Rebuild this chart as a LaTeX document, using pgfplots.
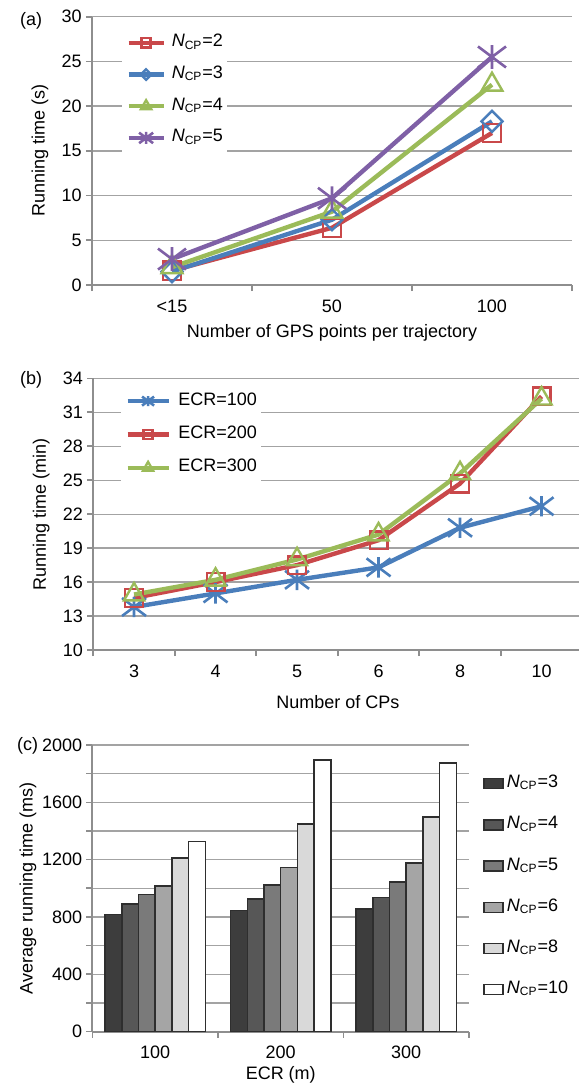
\documentclass[border=0pt]{standalone}
\usepackage{fontspec}
\setmainfont{Liberation Sans}
\usepackage{pgfplots}
\pgfplotsset{compat=1.18}
\usetikzlibrary{plotmarks}
\definecolor{cred}{HTML}{C9484A}
\definecolor{cblue}{HTML}{4A7EBB}
\definecolor{cgreen}{HTML}{9BBB59}
\definecolor{cpurple}{HTML}{7F60A6}
\definecolor{gridgray}{HTML}{A3A3A3}
\definecolor{axisgray}{HTML}{8E8E8E}
\definecolor{b3}{HTML}{3D3D3D}
\definecolor{b4}{HTML}{575757}
\definecolor{b5}{HTML}{7A7A7A}
\definecolor{b6}{HTML}{A5A5A5}
\definecolor{b8}{HTML}{D9D9D9}
\definecolor{bedge}{HTML}{2E2E2E}
\pgfdeclareplotmark{xstar}{%
  \pgfpathmoveto{\pgfqpoint{0pt}{0.85\pgfplotmarksize}}%
  \pgfpathlineto{\pgfqpoint{0pt}{-0.85\pgfplotmarksize}}%
  \pgfpathmoveto{\pgfqpoint{-\pgfplotmarksize}{0.75\pgfplotmarksize}}%
  \pgfpathlineto{\pgfqpoint{\pgfplotmarksize}{-0.75\pgfplotmarksize}}%
  \pgfpathmoveto{\pgfqpoint{-\pgfplotmarksize}{-0.75\pgfplotmarksize}}%
  \pgfpathlineto{\pgfqpoint{\pgfplotmarksize}{0.75\pgfplotmarksize}}%
  \pgfusepathqstroke
}
\newcommand{\ncp}[1]{\textit{N}\textsubscript{CP}=#1}
\pgfplotsset{
  base/.style={
    anchor=south west, scale only axis,
    font=\fontsize{9}{11}\selectfont,
    /pgf/number format/assume math mode=true,
    /pgf/number format/1000 sep={},
    scaled y ticks=false,
    axis x line*=bottom, axis y line*=left,
    axis line style={-, draw=axisgray, line width=1pt},
    every outer x axis line/.append style={-},
    every outer y axis line/.append style={-},
    tick align=outside,
    major tick length=3pt, minor tick length=3pt,
    tick style={draw=axisgray, line width=0.8pt},
    ymajorgrids,
    grid style={draw=gridgray, line width=0.65pt},
    yticklabel style={anchor=east, inner sep=0pt, xshift=-2pt},
    xticklabel style={anchor=center, inner sep=0pt, yshift=-7.5pt},
    major x tick style={draw=none},
    clip=false,
  },
  linelegend/.style={
    legend image code/.code={\draw[mark repeat=2,mark phase=2,every mark/.append style={scale=0.5}] plot coordinates {(0pt,0pt) (#1/2,0pt) (#1,0pt)};},
  },
  barlegend/.style={legend image code/.code={\draw[##1] (0pt,-2.5pt) rectangle (9.5pt,2.5pt);}},
}
\begin{document}
\begin{tikzpicture}
\path[use as bounding box] (0,0) rectangle (289.5pt,-542pt);
\node[anchor=base west, font=\fontsize{9}{11}\selectfont] at (6.5pt,-12.5pt) {(a)};
\node[anchor=base west, font=\fontsize{9}{11}\selectfont] at (6.5pt,-192pt) {(b)};
\node[anchor=base west, font=\fontsize{9}{11}\selectfont] at (5pt,-375pt) {(c)};
% ---------------- (a)
\begin{axis}[base,
  at={(46pt,-142.5pt)}, width=240pt, height=134.15pt,
  xmin=-0.5, xmax=2.5, ymin=0, ymax=30,
  xtick={0,1,2}, xticklabels={<15,50,100},
  minor xtick={-0.5,0.5,1.5,2.5},
  ytick={0,5,...,30},
  xlabel={Number of GPS points per trajectory},
  xlabel style={at={([yshift=-24pt]axis description cs:0.5,0)}, anchor=center},
  ylabel={Running time (s)},
  ylabel style={at={([xshift=-26pt]axis description cs:0,0.5)}, anchor=center},
  linelegend=17.5pt,
  legend style={at={(axis description cs:0.0625,0.969)}, anchor=north west,
    draw=none, fill=white, inner xsep=2pt, inner ysep=4.2pt,
    row sep=6.85pt, column sep=3pt,
    nodes={inner sep=0pt, text height=6.5pt, text depth=2.5pt},
    font=\fontsize{9}{11}\selectfont},
  legend cell align=left,
]
\addplot[cred, line width=2.2pt, mark=square, mark size=4.6pt, mark options={fill=white, line width=1.2pt}]
  coordinates {(0,1.6) (1,6.4) (2,17.0)};
\addlegendentry{\ncp{2}}
\addplot[cblue, line width=2.2pt, mark=square, mark size=3.7pt, mark options={fill=white, rotate=45, line width=1.2pt}]
  coordinates {(0,1.5) (1,7.3) (2,18.3)};
\addlegendentry{\ncp{3}}
\addplot[cgreen, line width=2.2pt, mark=triangle, mark size=6pt, mark options={fill=white, line width=1.2pt}]
  coordinates {(0,2.0) (1,8.2) (2,22.4)};
\addlegendentry{\ncp{4}}
\addplot[cpurple, line width=2.2pt, mark=xstar, mark size=7pt, mark options={line width=1.3pt}]
  coordinates {(0,2.9) (1,9.7) (2,25.5)};
\addlegendentry{\ncp{5}}
\end{axis}
% ---------------- (b)
\begin{axis}[base,
  at={(46.65pt,-325pt)}, width=244.5pt, height=135.85pt,
  xmin=-0.5, xmax=5.5, ymin=10, ymax=34,
  xtick={0,1,2,3,4,5}, xticklabels={3,4,5,6,8,10},
  minor xtick={-0.5,0.5,1.5,2.5,3.5,4.5,5.5},
  ytick={10,13,...,34},
  xlabel={Number of CPs},
  xlabel style={at={([yshift=-25.85pt]axis description cs:0.5,0)}, anchor=center},
  ylabel={Running time (min)},
  ylabel style={at={([xshift=-26pt]axis description cs:0,0.5)}, anchor=center},
  linelegend=20.5pt,
  legend style={at={(axis description cs:0.0566,0.9864)}, anchor=north west,
    draw=none, fill=white, inner xsep=2pt, inner ysep=4.85pt,
    row sep=7.65pt, column sep=3.75pt,
    nodes={inner sep=0pt, text height=6.5pt, text depth=2.5pt},
    font=\fontsize{9}{11}\selectfont},
  legend cell align=left,
]
\addplot[cblue, line width=2.2pt, mark=xstar, mark size=6pt, mark options={line width=1.3pt}]
  coordinates {(0,13.8) (1,15.0) (2,16.2) (3,17.3) (4,20.8) (5,22.7)};
\addlegendentry{ECR=100}
\addplot[cred, line width=2.2pt, mark=square, mark size=4.4pt, mark options={fill=white, line width=1.2pt}]
  coordinates {(0,14.6) (1,16.0) (2,17.5) (3,19.7) (4,24.7) (5,32.4)};
\addlegendentry{ECR=200}
\addplot[cgreen, line width=2.2pt, mark=triangle, mark size=5.8pt, mark options={fill=white, line width=1.2pt}]
  coordinates {(0,14.9) (1,16.2) (2,18.0) (3,20.2) (4,25.6) (5,32.2)};
\addlegendentry{ECR=300}
\end{axis}
% ---------------- (c)
\begin{axis}[base,
  at={(46.25pt,-515.75pt)}, width=188.25pt, height=143.25pt,
  ybar=0pt, bar width=8.35pt,
  xmin=-0.5, xmax=2.5, ymin=0, ymax=2000,
  xtick={0,1,2}, xticklabels={100,200,300},
  minor xtick={-0.5,0.5,1.5,2.5},
  ytick={0,400,...,2000}, minor ytick={200,600,...,1800},
  yminorgrids, minor grid style={draw=gridgray, line width=0.65pt},
  xlabel={ECR (m)},
  xlabel style={at={([yshift=-21.75pt]axis description cs:0.5,0)}, anchor=center},
  ylabel={Average running time (ms)},
  ylabel style={at={([xshift=-32.25pt]axis description cs:0,0.5)}, anchor=center},
  legend style={at={(axis description cs:1.0372,0.8977)}, anchor=north west,
    draw=none, fill=none, inner sep=0pt,
    row sep=11.6pt, column sep=1.5pt,
    nodes={inner sep=0pt, text height=6.5pt, text depth=2.5pt},
    font=\fontsize{9}{11}\selectfont},
  legend cell align=left,
]
\addplot[barlegend, fill=b3, draw=bedge, line width=0.75pt] coordinates {(0,818) (1,846) (2,855)};
\addlegendentry{\ncp{3}}
\addplot[barlegend, fill=b4, draw=bedge, line width=0.75pt] coordinates {(0,890) (1,925) (2,935)};
\addlegendentry{\ncp{4}}
\addplot[barlegend, fill=b5, draw=bedge, line width=0.75pt] coordinates {(0,958) (1,1023) (2,1044)};
\addlegendentry{\ncp{5}}
\addplot[barlegend, fill=b6, draw=bedge, line width=0.75pt] coordinates {(0,1016) (1,1145) (2,1175)};
\addlegendentry{\ncp{6}}
\addplot[barlegend, fill=b8, draw=bedge, line width=0.75pt] coordinates {(0,1210) (1,1449) (2,1498)};
\addlegendentry{\ncp{8}}
\addplot[barlegend, fill=white, draw=bedge, line width=0.75pt] coordinates {(0,1325) (1,1897) (2,1876)};
\addlegendentry{\ncp{10}}
\end{axis}
\end{tikzpicture}
\end{document}
